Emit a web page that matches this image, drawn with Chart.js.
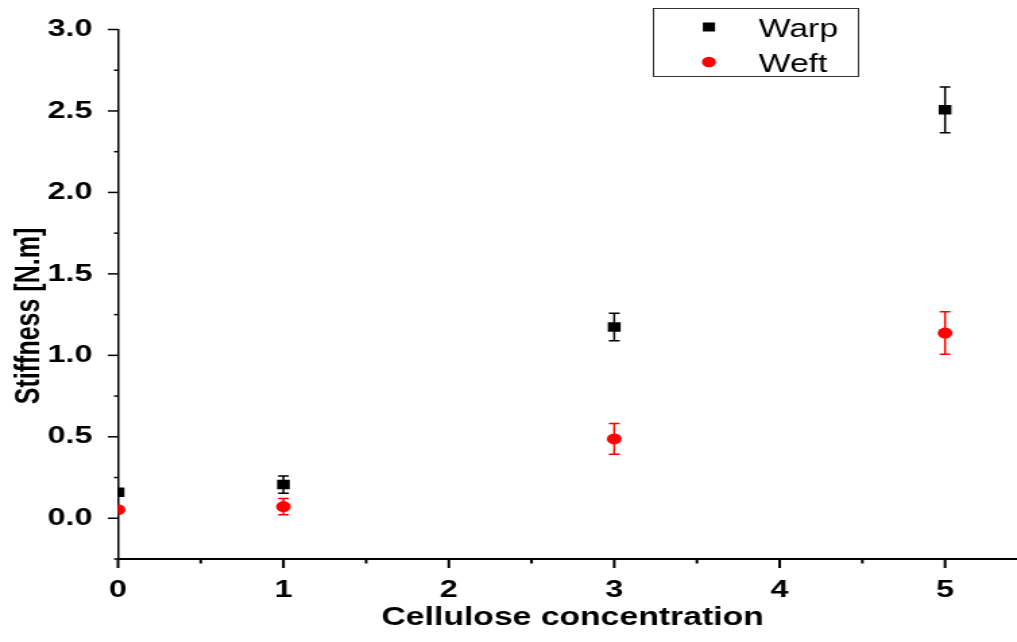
<!DOCTYPE html>
<html>
<head>
<meta charset="utf-8">
<script src="https://cdn.jsdelivr.net/npm/chart.js@4"></script>
<style>
  html, body { margin: 0; padding: 0; background: #fff; overflow: hidden; }
  #chart { display: block; transform: scaleX(1.3488); transform-origin: 0 0; }
</style>
</head>
<body>
<canvas id="chart" width="754" height="642"></canvas>
<script>
const concentration = [0, 1, 3, 5];
const warpStiffness = [0.16, 0.207, 1.174, 2.507];
const warpError = [0.02, 0.053, 0.085, 0.14];
const weftStiffness = [0.053, 0.072, 0.487, 1.137];
const weftError = [0.02, 0.05, 0.094, 0.13];
const xTickValues = [0, 1, 2, 3, 4, 5];
const yTickValues = [0, 0.5, 1.0, 1.5, 2.0, 2.5, 3.0];
const xTitle = 'Cellulose concentration';
const yTitle = 'Stiffness [N.m]';

const FONT = '"Liberation Sans", Arial, sans-serif';
const toPoints = (ys) => concentration.map((x, i) => ({ x: x, y: ys[i] }));

// vertical error bars with caps, drawn under the markers
const errorBars = {
    id: 'errorBars',
    beforeDatasetsDraw(chart) {
        const ctx = chart.ctx;
        const xs = chart.scales.x;
        const ys = chart.scales.y;
        const area = chart.chartArea;
        ctx.save();
        ctx.beginPath();
        ctx.rect(area.left, area.top, area.right - area.left, area.bottom - area.top);
        ctx.clip();
        chart.data.datasets.forEach(ds => {
            ctx.strokeStyle = ds.errorColor;
            ctx.lineWidth = 1.5;
            ds.data.forEach((p, i) => {
                const px = xs.getPixelForValue(p.x);
                const top = ys.getPixelForValue(p.y + ds.errors[i]);
                const bottom = ys.getPixelForValue(p.y - ds.errors[i]);
                ctx.beginPath();
                ctx.moveTo(px, top);
                ctx.lineTo(px, bottom);
                ctx.moveTo(px - 4, top);
                ctx.lineTo(px + 4, top);
                ctx.moveTo(px - 4, bottom);
                ctx.lineTo(px + 4, bottom);
                ctx.stroke();
            });
        });
        ctx.restore();
    }
};

// outward major and minor tick marks, plus the two axis titles
const axisDecor = {
    id: 'axisDecor',
    afterDraw(chart) {
        const ctx = chart.ctx;
        const xs = chart.scales.x;
        const ys = chart.scales.y;
        const area = chart.chartArea;
        ctx.save();
        ctx.strokeStyle = '#000';
        ctx.lineWidth = 1.5;
        for (let k = -1; k <= 12; k++) {
            const py = ys.getPixelForValue(k * 0.25);
            const len = k % 2 === 0 ? 7.5 : 3;
            ctx.beginPath();
            ctx.moveTo(area.left - len, py);
            ctx.lineTo(area.left, py);
            ctx.stroke();
        }
        ctx.lineWidth = 2;
        for (let k = 0; k <= 10; k++) {
            const px = xs.getPixelForValue(k * 0.5);
            const len = k % 2 === 0 ? 9 : 4.5;
            ctx.beginPath();
            ctx.moveTo(px, area.bottom);
            ctx.lineTo(px, area.bottom + len);
            ctx.stroke();
        }

        ctx.fillStyle = '#000';
        ctx.textBaseline = 'alphabetic';
        ctx.textAlign = 'center';
        ctx.font = 'bold 25px ' + FONT;
        ctx.fillText(xTitle, 424.5, 625);

        ctx.translate(29, 316);
        ctx.rotate(-Math.PI / 2);
        ctx.font = 'bold 25px ' + FONT;
        ctx.fillText(yTitle, 0, 0);
        ctx.restore();
    }
};

// boxed legend in the upper right
const boxLegend = {
    id: 'boxLegend',
    afterDraw(chart) {
        const ctx = chart.ctx;
        ctx.save();
        ctx.strokeStyle = '#333';
        ctx.lineWidth = 1;
        ctx.strokeRect(484.5, 8.5, 152, 68);
        ctx.font = '25px ' + FONT;
        ctx.textBaseline = 'alphabetic';
        ctx.fillStyle = '#000';
        ctx.fillRect(525.6 - 4.5, 27 - 4.5, 9, 9);
        ctx.fillText(chart.data.datasets[0].label, 562.5, 36.5);
        ctx.fillStyle = '#ff0000';
        ctx.beginPath();
        ctx.arc(525.6, 62, 5.2, 0, Math.PI * 2);
        ctx.fill();
        ctx.fillStyle = '#000';
        ctx.fillText(chart.data.datasets[1].label, 562.5, 71.5);
        ctx.restore();
    }
};

const tickFont = { family: FONT, size: 24, weight: 'bold' };

new Chart(document.getElementById('chart'), {
    type: 'scatter',
    data: {
        datasets: [{
            label: 'Warp',
            data: toPoints(warpStiffness),
            errors: warpError,
            errorColor: '#000',
            pointStyle: 'rect',
            pointRadius: 6.7,
            pointHoverRadius: 6.7,
            backgroundColor: '#000',
            borderColor: '#000',
            borderWidth: 0,
            clip: 0
        }, {
            label: 'Weft',
            data: toPoints(weftStiffness),
            errors: weftError,
            errorColor: '#ff0000',
            pointStyle: 'circle',
            pointRadius: 5.5,
            pointHoverRadius: 5.5,
            backgroundColor: '#ff0000',
            borderColor: '#ff0000',
            borderWidth: 0,
            clip: 0
        }]
    },
    options: {
        responsive: false,
        animation: false,
        devicePixelRatio: 1,
        layout: { autoPadding: false, padding: { top: 29.5, right: 0, left: 0, bottom: 0 } },
        plugins: {
            legend: { display: false },
            tooltip: { enabled: false }
        },
        scales: {
            x: {
                type: 'linear',
                min: 0,
                max: 5.435,
                afterBuildTicks: (scale) => { scale.ticks = xTickValues.map(v => ({ value: v })); },
                afterFit: (scale) => { scale.height = 83; },
                grid: { display: false },
                border: { display: true, color: '#000', width: 2 },
                ticks: {
                    color: '#000',
                    font: tickFont,
                    padding: 9,
                    maxRotation: 0,
                    callback: (v) => String(v)
                }
            },
            y: {
                type: 'linear',
                min: -0.25,
                max: 3.0,
                afterBuildTicks: (scale) => { scale.ticks = yTickValues.map(v => ({ value: v })); },
                afterFit: (scale) => { scale.width = 87.5; },
                grid: { display: false },
                border: { display: true, color: '#000', width: 1.5 },
                ticks: {
                    color: '#000',
                    font: tickFont,
                    padding: 11,
                    callback: (v) => Number(v).toFixed(1)
                }
            }
        }
    },
    plugins: [errorBars, axisDecor, boxLegend]
});
</script>
</body>
</html>
